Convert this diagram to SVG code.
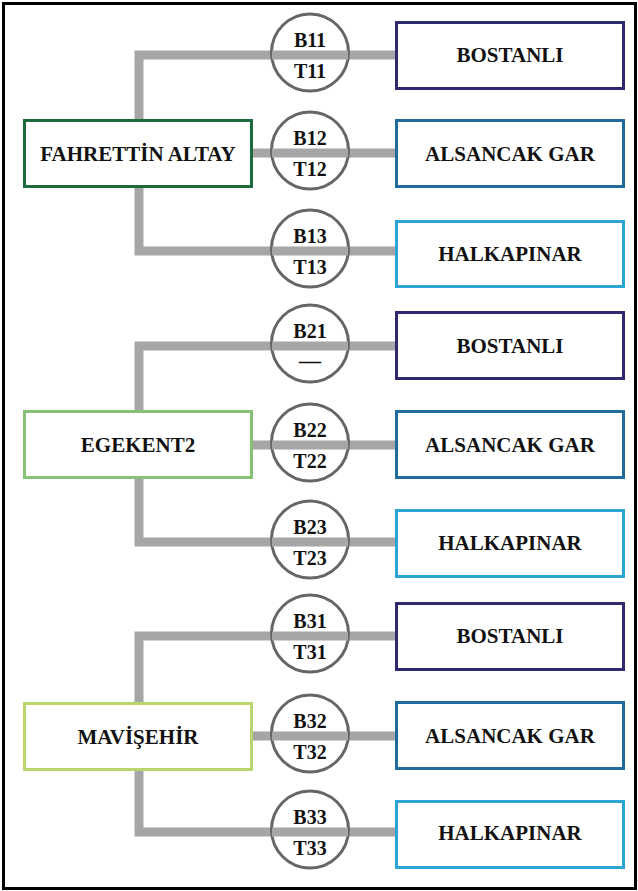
<svg xmlns="http://www.w3.org/2000/svg" width="638" height="891" viewBox="0 0 638 891">
<style>
.bg{fill:#ffffff}
.frame{fill:none;stroke:#000000;stroke-width:3}
.conn{fill:none;stroke:#a6a6a6;stroke-width:9}
.box{fill:#ffffff;stroke-width:3}
.circ{fill:#ffffff;stroke:#666666;stroke-width:3}
.t{font-family:"Liberation Serif","Times New Roman",serif;font-weight:bold;fill:#111111;text-anchor:middle}
.bt{font-size:21px}
.ct{font-size:20px}
.src1{stroke:#1d6b3d}
.src2{stroke:#85c275}
.src3{stroke:#b9d66c}
.dB{stroke:#2f2a6e}
.dA{stroke:#1f6b9c}
.dH{stroke:#2ba4d6}
</style>
<rect class="bg" x="0" y="0" width="638" height="891"/>
<rect class="frame" x="3.5" y="3.5" width="632" height="885"/>

<g id="connectors">
  <path class="conn" d="M395,55 H139 V251 H395"/>
  <path class="conn" d="M252,153 H395"/>
  <path class="conn" d="M395,346 H139 V542 H395"/>
  <path class="conn" d="M252,445 H395"/>
  <path class="conn" d="M395,636 H139 V832 H395"/>
  <path class="conn" d="M252,736 H395"/>
</g>

<g id="c11"><circle class="circ" cx="310" cy="52.5" r="38.5"/></g>
<g id="c12"><circle class="circ" cx="310" cy="150.5" r="38.5"/></g>
<g id="c13"><circle class="circ" cx="310" cy="248.5" r="38.5"/></g>
<g id="c21"><circle class="circ" cx="310" cy="343.5" r="38.5"/></g>
<g id="c22"><circle class="circ" cx="310" cy="442.5" r="38.5"/></g>
<g id="c23"><circle class="circ" cx="310" cy="539.5" r="38.5"/></g>
<g id="c31"><circle class="circ" cx="310" cy="633.5" r="38.5"/></g>
<g id="c32"><circle class="circ" cx="310" cy="733.5" r="38.5"/></g>
<g id="c33"><circle class="circ" cx="310" cy="829.5" r="38.5"/></g>

<g id="lines-over">
  <path class="conn" d="M272,55 H348 M272,153 H348 M272,251 H348 M272,346 H348 M272,445 H348 M272,542 H348 M272,636 H348 M272,736 H348 M272,832 H348"/>
</g>

<g id="labels">
  <text class="t ct" x="310" y="47">B11</text><text class="t ct" x="310" y="78">T11</text>
  <text class="t ct" x="310" y="145">B12</text><text class="t ct" x="310" y="176">T12</text>
  <text class="t ct" x="310" y="243">B13</text><text class="t ct" x="310" y="274">T13</text>
  <text class="t ct" x="310" y="338">B21</text><text class="t" style="font-size:22px" x="310" y="368">—</text>
  <text class="t ct" x="310" y="437">B22</text><text class="t ct" x="310" y="468">T22</text>
  <text class="t ct" x="310" y="534">B23</text><text class="t ct" x="310" y="565">T23</text>
  <text class="t ct" x="310" y="628">B31</text><text class="t ct" x="310" y="659">T31</text>
  <text class="t ct" x="310" y="728">B32</text><text class="t ct" x="310" y="759">T32</text>
  <text class="t ct" x="310" y="824">B33</text><text class="t ct" x="310" y="855">T33</text>
</g>

<g id="fahrettin"><rect class="box src1" x="24.5" y="120.5" width="227" height="66"/><text class="t bt" x="138" y="161">FAHRETTİN ALTAY</text></g>
<g id="egekent2"><rect class="box src2" x="24.5" y="411.5" width="227" height="66"/><text class="t bt" x="138" y="452">EGEKENT2</text></g>
<g id="mavisehir"><rect class="box src3" x="24.5" y="703.5" width="227" height="66"/><text class="t bt" x="138" y="744">MAVİŞEHİR</text></g>

<g id="d11"><rect class="box dB" x="396.5" y="22.5" width="227" height="66"/><text class="t bt" x="510" y="62">BOSTANLI</text></g>
<g id="d12"><rect class="box dA" x="396.5" y="120.5" width="227" height="66"/><text class="t bt" x="510" y="161">ALSANCAK GAR</text></g>
<g id="d13"><rect class="box dH" x="396.5" y="221.5" width="227" height="65"/><text class="t bt" x="510" y="261">HALKAPINAR</text></g>
<g id="d21"><rect class="box dB" x="396.5" y="312.5" width="227" height="66"/><text class="t bt" x="510" y="353">BOSTANLI</text></g>
<g id="d22"><rect class="box dA" x="396.5" y="411.5" width="227" height="66"/><text class="t bt" x="510" y="452">ALSANCAK GAR</text></g>
<g id="d23"><rect class="box dH" x="396.5" y="510.5" width="227" height="66"/><text class="t bt" x="510" y="550">HALKAPINAR</text></g>
<g id="d31"><rect class="box dB" x="396.5" y="603.5" width="227" height="66"/><text class="t bt" x="510" y="643">BOSTANLI</text></g>
<g id="d32"><rect class="box dA" x="396.5" y="702.5" width="227" height="66"/><text class="t bt" x="510" y="743">ALSANCAK GAR</text></g>
<g id="d33"><rect class="box dH" x="396.5" y="801.5" width="227" height="66"/><text class="t bt" x="510" y="840">HALKAPINAR</text></g>
</svg>
